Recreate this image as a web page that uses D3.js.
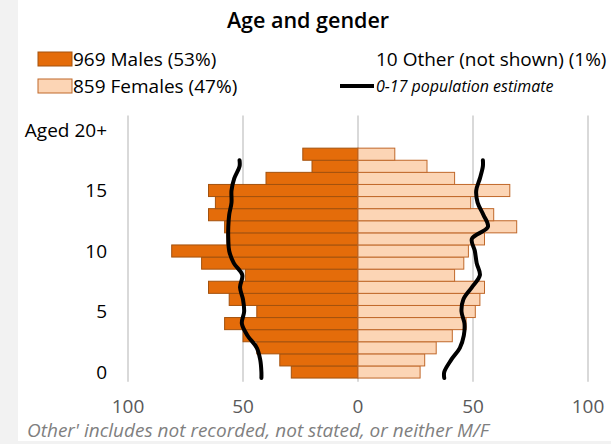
<!DOCTYPE html>
<html>
<head>
<meta charset="utf-8">
<script src="https://cdn.jsdelivr.net/npm/d3@7"></script>
<style>
  body { margin: 0; background: #fff; }
  svg { display: block; font-family: "Open Sans", "Noto Sans", sans-serif; }
</style>
</head>
<body>
<svg id="chart" width="611" height="444"></svg>
<script>
// ages 0..18, one bar each
const ages = d3.range(0, 19);
const males = [29, 34, 44, 50, 58, 44, 56, 65, 49, 68, 81, 57, 58, 65, 62, 65, 40, 20, 24];
const females = [27, 29, 34, 41, 47, 51, 53, 55, 42, 46, 48, 55, 69, 59, 49, 66, 42, 30, 16];

// 0-17 population estimate, read at each age
const estAges = d3.range(0, 18);
const estMales = [42, 42.5, 44, 48, 50.5, 49.5, 50, 51.3, 50.3, 54, 56, 56.4, 56.4, 56, 55, 55, 53.8, 51.5];
const estFemales = [37.5, 40.5, 44.3, 46, 46.3, 45, 45.8, 49.5, 53, 51.6, 50.8, 49.5, 56.5, 54.5, 52, 51.4, 53, 54.3];

const xTicks = [-100, -50, 0, 50, 100];
const yTicks = [0, 5, 10, 15, 20];
const yTickLabel = d => d === 20 ? "Aged 20+" : d;

const legendLeft = ["969 Males (53%)", "859 Females (47%)"];
const otherText = "10 Other (not shown) (1%)";
const estText = "0-17 population estimate";
const footnote = "Other' includes not recorded, not stated, or neither M/F";

const maleFill = "#e46c0a", femaleFill = "#fcd5b5";
const maleStroke = "#a3520e", femaleStroke = "#c0682a";

const svg = d3.select("#chart");

// page background strips
svg.append("rect").attr("x", 0).attr("y", 0).attr("width", 18).attr("height", 444).attr("fill", "#f2f2f2");
svg.append("rect").attr("x", 0).attr("y", 441).attr("width", 611).attr("height", 3).attr("fill", "#f2f2f2");

const x = d3.scaleLinear().domain([-100, 100]).range([128, 588]);
const y = d3.scaleLinear().domain([0, 20]).range([372, 130]);

// gridlines
svg.append("g").selectAll("line").data(xTicks).join("line")
  .attr("x1", d => x(d)).attr("x2", d => x(d))
  .attr("y1", y(21.2)).attr("y2", y(-0.8))
  .attr("stroke", "#d9d9d9").attr("stroke-width", 2);

// bars
const bars = svg.append("g");
bars.selectAll(".m").data(ages).join("rect").attr("class", "m")
  .attr("x", a => x(-males[a])).attr("width", a => x(0) - x(-males[a]))
  .attr("y", a => y(a + 0.5)).attr("height", a => y(a - 0.5) - y(a + 0.5))
  .attr("fill", maleFill).attr("stroke", maleStroke).attr("stroke-width", 1);
bars.selectAll(".f").data(ages).join("rect").attr("class", "f")
  .attr("x", x(0)).attr("width", a => x(females[a]) - x(0))
  .attr("y", a => y(a + 0.5)).attr("height", a => y(a - 0.5) - y(a + 0.5))
  .attr("fill", femaleFill).attr("stroke", femaleStroke).attr("stroke-width", 1);

// estimate lines (extend first/last value to the band edges)
function estPoints(vals, sign) {
  const pts = estAges.map(a => [x(sign * vals[a]), y(a)]);
  pts.unshift([x(sign * vals[0]), y(-0.5)]);
  pts.push([x(sign * vals[vals.length - 1]), y(17.5)]);
  return pts;
}
const line = d3.line().curve(d3.curveCatmullRom.alpha(0.5));
svg.append("path").attr("d", line(estPoints(estMales, -1)))
  .attr("fill", "none").attr("stroke", "#000").attr("stroke-width", 4).attr("stroke-linecap", "round");
svg.append("path").attr("d", line(estPoints(estFemales, 1)))
  .attr("fill", "none").attr("stroke", "#000").attr("stroke-width", 4).attr("stroke-linecap", "round");

// y axis labels
svg.append("g").selectAll("text").data(yTicks).join("text")
  .attr("x", 107).attr("y", d => y(d)).attr("dy", "0.35em")
  .attr("text-anchor", "end").attr("font-size", 19).attr("fill", "#000")
  .text(yTickLabel);

// x axis labels
svg.append("g").selectAll("text").data(xTicks).join("text")
  .attr("x", d => x(d)).attr("y", 406).attr("dy", "0.35em")
  .attr("text-anchor", "middle").attr("font-size", 19).attr("fill", "#595959")
  .text(d => Math.abs(d));

// title
svg.append("text").attr("x", 308).attr("y", 28).attr("text-anchor", "middle")
  .attr("font-size", 21.5).attr("font-weight", 600).attr("fill", "#000").text("Age and gender");

// legend
const leg = svg.append("g");
leg.selectAll("rect").data(legendLeft).join("rect")
  .attr("x", 38).attr("y", (d, i) => 52 + i * 27).attr("width", 34).attr("height", 14)
  .attr("fill", (d, i) => i === 0 ? maleFill : femaleFill)
  .attr("stroke", (d, i) => i === 0 ? maleStroke : femaleStroke);
leg.selectAll("text").data(legendLeft).join("text")
  .attr("x", 73).attr("y", (d, i) => 59 + i * 27).attr("dy", "0.35em")
  .attr("font-size", 19).attr("fill", "#000").text(d => d);
leg.append("text").attr("x", 376).attr("y", 59).attr("dy", "0.35em")
  .attr("font-size", 19).attr("fill", "#000").text(otherText);
leg.append("line").attr("x1", 340).attr("x2", 374).attr("y1", 86).attr("y2", 86)
  .attr("stroke", "#000").attr("stroke-width", 4);
leg.append("text").attr("x", 376).attr("y", 86).attr("dy", "0.35em")
  .attr("font-size", 16).attr("font-style", "italic").attr("fill", "#000").text(estText);

// footnote
svg.append("text").attr("x", 27).attr("y", 430).attr("dy", "0.35em")
  .attr("font-size", 19).attr("font-style", "italic").attr("fill", "#7f7f7f").text(footnote);
</script>
</body>
</html>
